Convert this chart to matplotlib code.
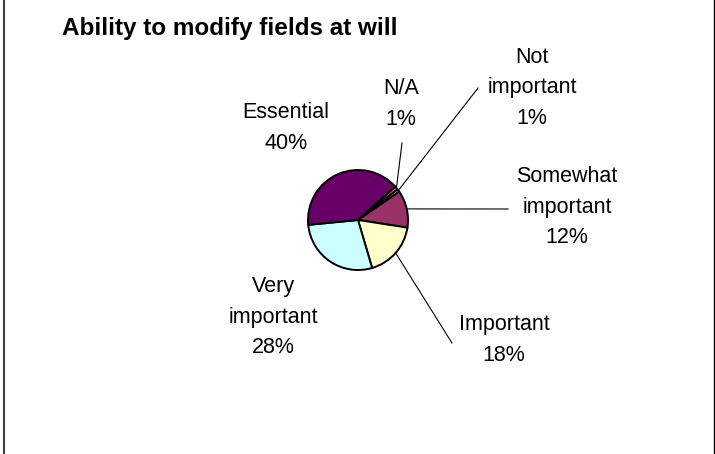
import matplotlib.pyplot as plt
import numpy as np
from matplotlib.lines import Line2D

plt.rcParams['font.family'] = ['Liberation Sans', 'DejaVu Sans']

# datos del grafico (orden de Excel, sentido horario)
categorias = ['Not\nimportant', 'Somewhat\nimportant', 'Important', 'Very\nimportant', 'Essential', 'N/A']
porcentajes = [1, 12, 18, 28, 40, 1]
colores = ['#9999FF', '#993366', '#FFFFCC', '#CCFFFF', '#660066', '#FF8080']

W, H = 715, 454
# posiciones de las etiquetas en pixeles (desde arriba)
pos_etiquetas = [(532, 88), (567, 207), (504, 340), (273, 317), (286, 128), (401, 104)]
# extremo de la linea guia junto a la etiqueta (None = sin linea)
fin_guia = [(478, 88), (508, 209), (452, 343), None, None, (402, 143)]

fig = plt.figure(figsize=(W / 100, H / 100), dpi=100)
ax = fig.add_axes([0, 0, 1, 1])

centro = (358, H - 220)
radio = 50
wedges, _ = ax.pie(porcentajes, colors=colores, startangle=38, counterclock=False,
                   center=centro, radius=radio,
                   wedgeprops=dict(edgecolor='black', linewidth=1.4))
ax.set_xlim(0, W)
ax.set_ylim(0, H)
ax.set_aspect('auto')
ax.axis('off')

for w, cat, pct, (lx, ly), fin in zip(wedges, categorias, porcentajes, pos_etiquetas, fin_guia):
    ax.text(lx, H - ly, f'{cat}\n{pct}%', ha='center', va='center', fontsize=15.5,
            linespacing=1.6, multialignment='center')
    if fin is not None:
        ang = np.deg2rad((w.theta1 + w.theta2) / 2)
        x0 = centro[0] + radio * np.cos(ang)
        y0 = centro[1] + radio * np.sin(ang)
        ax.plot([x0, fin[0]], [y0, H - fin[1]], color='black', linewidth=0.8)

fig.text(62 / W, 1 - 35 / H, 'Ability to modify fields at will', fontsize=17.5,
         fontweight='bold', va='baseline', ha='left')

# marco lateral
fig.add_artist(Line2D([3.5 / W, 3.5 / W], [0, 1], color='#404040', linewidth=1.5))
fig.add_artist(Line2D([714 / W, 714 / W], [0, 1], color='black', linewidth=1))

fig.savefig('out.png', dpi=100, facecolor='white')
